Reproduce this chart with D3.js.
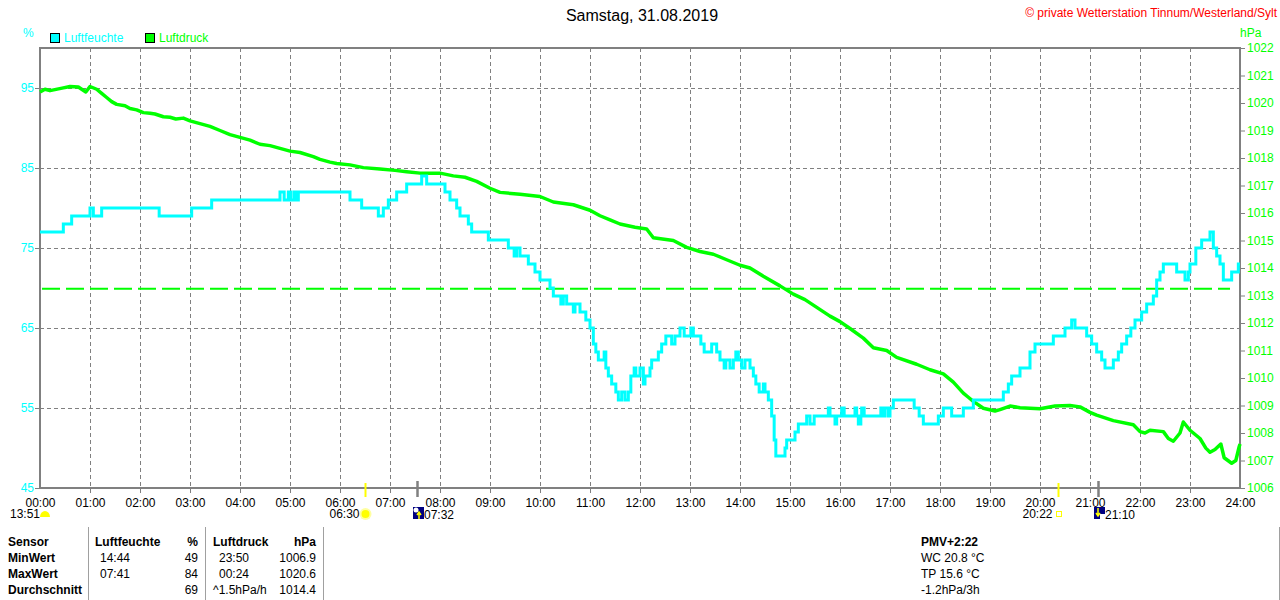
<!DOCTYPE html>
<html><head><meta charset="utf-8">
<script src="https://cdn.jsdelivr.net/npm/d3@7"></script>
<style>
body{margin:0;background:#fff;}
svg{display:block;font-family:"Liberation Sans",Arial,sans-serif;}
</style></head><body>
<svg id="c" width="1280" height="600"></svg>
<script>
// ---------- data ----------
const title = "Samstag, 31.08.2019";
const copyright = "\u00A9 private Wetterstation Tinnum/Westerland/Sylt";
const hourTicks = d3.range(0, 25);                       // hours
const hourLabels = hourTicks.map(h => String(h).padStart(2, "0") + ":00");
const humTicks = [45, 55, 65, 75, 85, 95];               // %
const presTicks = d3.range(1006, 1023);                  // hPa
const presRef = 1013.25;                                 // dashed reference line

// humidity [minute of day, %] (step data)
const humData = [[0,77],[28,78],[38,79],[60,80],[64,79],[74,80],[143,79],[182,80],[206,81],[288,82],[293,81],[298,82],[301,81],[305,82],[307,81],[310,82],[372,81],[386,80],[406,79],[412,80],[418,81],[428,82],[440,83],[458,84],[464,83],[486,82],[492,81],[500,80],[504,79],[514,78],[518,77],[538,76],[562,75],[569,74],[572,75],[576,74],[586,73],[594,72],[600,71],[612,70],[616,69],[625,68],[628,69],[632,68],[640,67],[642,68],[648,67],[655,66],[660,65],[664,63],[667,62],[670,61],[677,62],[679,60],[682,59],[686,58],[691,57],[694,56],[698,57],[702,56],[706,57],[709,59],[713,60],[715,59],[720,60],[724,58],[726,59],[732,60],[734,61],[742,62],[746,63],[751,64],[758,63],[762,64],[768,65],[773,64],[781,65],[784,64],[793,63],[797,62],[806,63],[812,62],[816,61],[821,60],[823,61],[828,60],[832,61],[835,62],[838,61],[842,60],[846,61],[852,60],[856,59],[859,58],[863,57],[868,58],[870,57],[874,56],[878,54],[881,51],[883,49],[894,50],[896,51],[906,52],[910,53],[920,54],[924,53],[929,54],[946,55],[948,54],[954,53],[956,54],[962,55],[965,54],[978,55],[980,54],[982,53],[985,54],[986,55],[989,54],[1009,55],[1012,54],[1014,55],[1018,54],[1020,55],[1024,56],[1049,55],[1055,54],[1060,53],[1078,54],[1084,55],[1094,54],[1108,55],[1120,56],[1156,57],[1162,58],[1166,59],[1176,60],[1188,62],[1194,63],[1216,64],[1230,65],[1238,66],[1242,65],[1256,64],[1262,63],[1268,62],[1274,61],[1278,60],[1288,61],[1294,62],[1298,63],[1304,64],[1309,65],[1314,66],[1322,67],[1328,68],[1336,69],[1340,71],[1344,72],[1348,73],[1364,72],[1374,71],[1378,72],[1380,73],[1387,75],[1394,76],[1404,77],[1408,75],[1412,74],[1416,73],[1420,71],[1430,72],[1438,73],[1440,73]];

// pressure [minute of day] and [hPa]
const presMin = [0,6,12,28,36,46,55,60,68,74,80,86,92,102,108,116,124,132,138,148,156,163,172,180,192,204,216,228,240,252,264,276,288,300,312,328,336,348,356,372,388,408,426,440,456,480,496,510,524,540,552,576,600,616,640,660,672,684,696,714,728,736,760,776,792,808,824,840,852,868,888,904,918,928,948,960,972,988,1000,1016,1028,1052,1068,1084,1096,1108,1114,1120,1132,1146,1152,1164,1176,1200,1218,1236,1248,1260,1268,1288,1312,1320,1326,1332,1348,1354,1360,1368,1372,1380,1392,1399,1404,1410,1417,1421,1430,1435,1439,1440];
const presVal = [1020.4,1020.5,1020.45,1020.55,1020.6,1020.58,1020.4,1020.6,1020.5,1020.35,1020.2,1020.05,1019.95,1019.9,1019.8,1019.75,1019.65,1019.63,1019.6,1019.5,1019.48,1019.42,1019.45,1019.35,1019.25,1019.15,1019.0,1018.85,1018.75,1018.65,1018.5,1018.45,1018.35,1018.25,1018.2,1018.05,1017.95,1017.85,1017.8,1017.75,1017.65,1017.6,1017.55,1017.5,1017.45,1017.45,1017.35,1017.3,1017.15,1016.9,1016.75,1016.68,1016.6,1016.4,1016.3,1016.1,1015.9,1015.75,1015.6,1015.48,1015.42,1015.1,1015.0,1014.75,1014.6,1014.5,1014.3,1014.1,1014.0,1013.7,1013.35,1013.05,1012.85,1012.65,1012.25,1012.05,1011.8,1011.45,1011.1,1011.0,1010.75,1010.5,1010.3,1010.15,1009.85,1009.45,1009.3,1009.15,1008.9,1008.8,1008.85,1008.98,1008.92,1008.88,1008.98,1009.0,1008.95,1008.75,1008.65,1008.45,1008.3,1008.05,1008.0,1008.1,1008.05,1007.8,1007.7,1008.0,1008.4,1008.1,1007.8,1007.45,1007.3,1007.4,1007.6,1007.1,1006.9,1007.0,1007.5,1007.6];

// sun / moon events [minute, label, kind]
const eventMin = [390, 452, 1222, 1270];
const eventLabel = ["06:30", "07:32", "20:22", "21:10"];
const eventKind = ["sunrise", "moonrise", "sunset", "moonset"];
const moonLabel = "13:51";

// statistics table
const tableRows = ["Sensor", "MinWert", "MaxWert", "Durchschnitt"];
const humStats = [["Luftfeuchte", "%"], ["14:44", "49"], ["07:41", "84"], ["", "69"]];
const presStats = [["Luftdruck", "hPa"], ["23:50", "1006.9"], ["00:24", "1020.6"], ["^1.5hPa/h", "1014.4"]];
const extraInfo = ["PMV+2:22", "WC 20.8 \u00B0C", "TP 15.6 \u00B0C", "-1.2hPa/3h"];

// ---------- drawing ----------
const svg = d3.select("#c");
const L = 40, R = 1240, T = 48, B = 488;
const CYAN = "#00FFFF", GREEN = "#00FF00", GRAY = "#808080";
const x = d3.scaleLinear().domain([0, 1440]).range([L, R]);
const yH = d3.scaleLinear().domain([45, 100]).range([B, T]);
const yP = d3.scaleLinear().domain([1006, 1022]).range([B, T]);

svg.append("rect").attr("width", 1280).attr("height", 600).attr("fill", "#fff");

// title + copyright
svg.append("text").attr("x", 642).attr("y", 21).attr("text-anchor", "middle")
  .attr("font-size", 16).attr("fill", "#000").text(title);
svg.append("text").attr("x", 1277).attr("y", 17).attr("text-anchor", "end")
  .attr("font-size", 12).attr("fill", "#FF0000").text(copyright);

// legend
const legend = [["Luftfeuchte", CYAN, 50], ["Luftdruck", GREEN, 145]];
legend.forEach(([t, c, lx]) => {
  svg.append("rect").attr("x", lx + 0.5).attr("y", 33.5).attr("width", 9).attr("height", 9)
    .attr("fill", c).attr("stroke", "#000");
  svg.append("text").attr("x", lx + 14).attr("y", 42).attr("font-size", 12).attr("fill", c).text(t);
});
svg.append("text").attr("x", 23).attr("y", 37).attr("font-size", 12).attr("fill", CYAN).text("%");
svg.append("text").attr("x", 1240).attr("y", 37).attr("font-size", 12).attr("fill", GREEN).text("hPa");

// grid
const grid = svg.append("g").attr("stroke", GRAY).attr("stroke-width", 1).attr("stroke-dasharray", "4,3");
humTicks.filter(v => v > 45).forEach(v => {
  grid.append("line").attr("x1", L).attr("x2", R).attr("y1", yH(v) + 0.5).attr("y2", yH(v) + 0.5);
});
hourTicks.filter(h => h > 0 && h < 24).forEach(h => {
  grid.append("line").attr("x1", x(h * 60) + 0.5).attr("x2", x(h * 60) + 0.5).attr("y1", T).attr("y2", B + 7);
});

// reference pressure line
svg.append("line").attr("x1", L + 2).attr("x2", 1230).attr("y1", yP(presRef)).attr("y2", yP(presRef))
  .attr("stroke", GREEN).attr("stroke-width", 2).attr("stroke-dasharray", "18,6");

// frame
svg.append("rect").attr("x", L).attr("y", T).attr("width", R - L).attr("height", B - T)
  .attr("fill", "none").attr("stroke", GRAY).attr("stroke-width", 2);

// axes
const axL = svg.append("g").attr("transform", `translate(${L},0)`)
  .call(d3.axisLeft(yH).tickValues(humTicks).tickSize(5).tickPadding(1).tickFormat(d3.format("d")));
axL.select(".domain").remove();
axL.selectAll("line").attr("stroke", GRAY);
axL.selectAll("text").attr("fill", CYAN).attr("font-size", 12).attr("font-family", null);

const axR = svg.append("g").attr("transform", `translate(${R},0)`)
  .call(d3.axisRight(yP).tickValues(presTicks).tickSize(5).tickPadding(2).tickFormat(d3.format("d")));
axR.select(".domain").remove();
axR.selectAll("line").attr("stroke", GRAY);
axR.selectAll("text").attr("fill", GREEN).attr("font-size", 12).attr("font-family", null);

const axB = svg.append("g").attr("transform", `translate(0,${B})`)
  .call(d3.axisBottom(x).tickValues(hourTicks.map(h => h * 60)).tickSize(0).tickPadding(10)
    .tickFormat((d, i) => hourLabels[i]));
axB.select(".domain").remove();
axB.selectAll("text").attr("fill", "#000").attr("font-size", 12).attr("font-family", null);

// lines
const presLine = d3.line().x(d => x(d[0])).y(d => yP(d[1])).curve(d3.curveLinear);
svg.append("path").datum(presMin.map((m, i) => [m, presVal[i]])).attr("d", presLine)
  .attr("fill", "none").attr("stroke", GREEN).attr("stroke-width", 3.5).attr("stroke-linejoin", "round");

const humLine = d3.line().x(d => x(d[0])).y(d => yH(d[1])).curve(d3.curveStepAfter);
svg.append("path").datum(humData).attr("d", humLine)
  .attr("fill", "none").attr("stroke", CYAN).attr("stroke-width", 3).attr("stroke-linejoin", "miter");

// event ticks and icons
const ev = svg.append("g");
eventMin.forEach((m, i) => {
  const ex = Math.round(x(m)) + 0.5;
  const kind = eventKind[i];
  const isSun = kind === "sunrise" || kind === "sunset";
  ev.append("line").attr("x1", ex).attr("x2", ex).attr("y1", isSun ? 483 : 481).attr("y2", 497)
    .attr("stroke", isSun ? "#FFFF00" : GRAY).attr("stroke-width", isSun ? 2 : 2.5);
  if (kind === "sunrise") {
    ev.append("circle").attr("cx", ex).attr("cy", 514).attr("r", 6).attr("fill", "#FFFFA0");
    ev.append("circle").attr("cx", ex).attr("cy", 514).attr("r", 4).attr("fill", "#FFFF00");
    ev.append("text").attr("x", ex - 6).attr("y", 518).attr("text-anchor", "end").attr("font-size", 12).text(eventLabel[i]);
  } else if (kind === "sunset") {
    ev.append("rect").attr("x", ex - 2).attr("y", 511.5).attr("width", 5).attr("height", 5)
      .attr("fill", "none").attr("stroke", "#FFFF00").attr("stroke-width", 1);
    ev.append("text").attr("x", ex - 6).attr("y", 518).attr("text-anchor", "end").attr("font-size", 12).text(eventLabel[i]);
  } else {
    const rx = ex - 4.5;
    ev.append("rect").attr("x", rx).attr("y", 507).attr("width", 11).attr("height", 12).attr("fill", "#000080");
    if (kind === "moonrise") {
      ev.append("circle").attr("cx", rx + 3).attr("cy", 510).attr("r", 2.5).attr("fill", "#fff");
      ev.append("path").attr("d", `M${rx + 6},519 V513 M${rx + 4},515 L${rx + 6},512 L${rx + 8},515`)
        .attr("stroke", "#FFFF00").attr("stroke-width", 1.5).attr("fill", "none");
    } else {
      ev.append("rect").attr("x", rx + 6).attr("y", 514).attr("width", 5).attr("height", 5).attr("fill", "#fff");
      ev.append("path").attr("d", `M${rx + 4},508 V515 M${rx + 2},513 L${rx + 4},516 L${rx + 6},513`)
        .attr("stroke", "#FFFF00").attr("stroke-width", 1.5).attr("fill", "none");
    }
    ev.append("text").attr("x", rx + 11).attr("y", 519).attr("font-size", 12).text(eventLabel[i]);
  }
});
// moon marker at left
svg.append("text").attr("x", 10).attr("y", 518).attr("font-size", 12).text(moonLabel);
svg.append("path").attr("d", "M40,517 A5,6 0 0 1 50,517 Z").attr("fill", "#FFFF00");

// table
const tb = svg.append("g").attr("font-size", 12).attr("fill", "#000");
[88.5, 205.5, 323.5, 1279.5].forEach(lx => {
  tb.append("line").attr("x1", lx).attr("x2", lx).attr("y1", 527).attr("y2", 600)
    .attr("stroke", "#A0A0A0").attr("stroke-width", 1);
});
const rowY = [546, 562, 578, 594];
tableRows.forEach((t, i) => {
  tb.append("text").attr("x", 8).attr("y", rowY[i]).attr("font-weight", "bold").text(t);
});
humStats.forEach(([a, b], i) => {
  tb.append("text").attr("x", i === 0 ? 95 : 100).attr("y", rowY[i]).attr("font-weight", i === 0 ? "bold" : null).text(a);
  tb.append("text").attr("x", 198).attr("y", rowY[i]).attr("text-anchor", "end").attr("font-weight", i === 0 ? "bold" : null).text(b);
});
presStats.forEach(([a, b], i) => {
  tb.append("text").attr("x", (i === 0 || i === 3) ? 213 : 219).attr("y", rowY[i]).attr("font-weight", i === 0 ? "bold" : null).text(a);
  tb.append("text").attr("x", 316).attr("y", rowY[i]).attr("text-anchor", "end").attr("font-weight", i === 0 ? "bold" : null).text(b);
});
extraInfo.forEach((t, i) => {
  tb.append("text").attr("x", 921).attr("y", rowY[i]).attr("font-weight", i === 0 ? "bold" : null).text(t);
});
</script>
</body></html>
